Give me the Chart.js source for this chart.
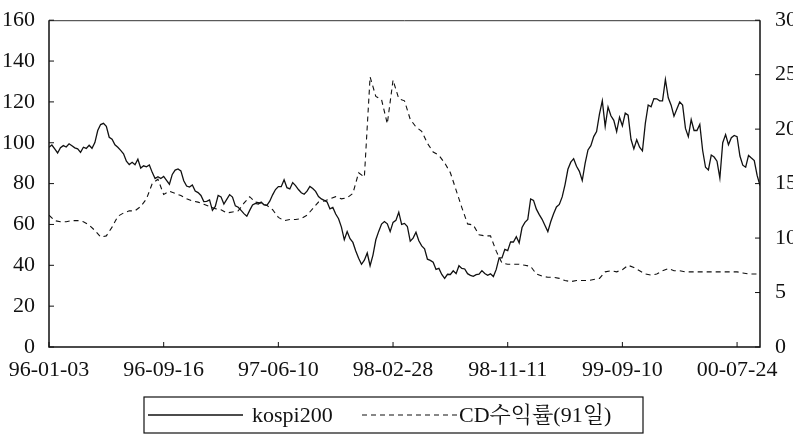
<!DOCTYPE html>
<html><head><meta charset="utf-8">
<script src="https://cdn.jsdelivr.net/npm/chart.js@4.4.1/dist/chart.umd.min.js"></script>
<style>html,body{margin:0;padding:0;background:#fff}</style>
</head><body>
<canvas id="c" width="793" height="436"></canvas>
<script>
// x-axis tick labels, one every 20 periods (1 period = 10 trading days)
const tickLabels = ['96-01-03','96-09-16','97-06-10','98-02-28','98-11-11','99-09-10','00-07-24'];
const tickEvery = 20;
const seriesNames = ['kospi200', 'CD수익률(91일)'];

// KOSPI200 index (left axis), sampled every half period (5 trading days)
const kospi200 = [
  97.8, 98.9, 97.0, 95.0, 97.6, 98.6, 97.9, 99.5, 98.5, 97.5,
  97.0, 95.3, 97.8, 97.2, 98.8, 97.3, 100.1, 106, 108.9, 109.5,
  108.0, 102.7, 101.7, 99, 97.8, 96.3, 94.6, 91, 89.3, 90.4,
  89.2, 91.9, 87.6, 88.7, 88.2, 89.1, 85.5, 82.5, 83.4, 82.5,
  83.5, 81.6, 79.7, 84.5, 86.6, 87.2, 86.2, 81.4, 78.8, 78.3,
  79.3, 76.4, 75.6, 74.2, 71.2, 71.3, 72.0, 66.9, 68.8, 74.2,
  73.5, 70.0, 72.3, 74.6, 73.4, 69.1, 68.4, 66.9, 65.3, 64.0,
  66.9, 69.5, 70.3, 70.0, 70.9, 69.6, 69.4, 71.4, 74.5, 77.1,
  78.5, 78.5, 81.9, 78, 77.4, 80.5, 79.0, 77.1, 75.5, 74.8,
  76.3, 78.6, 77.6, 76.2, 73.7, 72.5, 71.8, 71, 67.6, 68.3,
  65.1, 62.8, 58.7, 52.5, 56.5, 53, 51.2, 47, 43.5, 40.5,
  42.5, 46, 39.8, 45, 52.5, 56.6, 60.2, 61.4, 60.3, 56.5,
  61, 62, 66, 60, 60.5, 59, 51.8, 53.3, 56.2, 52,
  49.5, 48.1, 43, 42.4, 41.5, 38, 38.5, 35.5, 33.6, 35.6,
  35.5, 37.3, 35.9, 39.8, 38.5, 38.2, 35.9, 35.1, 34.6, 35.4,
  35.7, 37.4, 36, 35.1, 35.8, 34.5, 38, 43.6, 43.6, 47.8,
  47.2, 51.5, 51.4, 54, 51, 58.5, 61, 62.5, 72.5, 71.8,
  67.5, 64.8, 62.5, 59.5, 56.5, 61.3, 65.2, 68.6, 69.8, 73.5,
  79.5, 87, 90.5, 92.2, 88.5, 86, 81.5, 89.9, 96.5, 98.6,
  103, 105.5, 114, 120.5, 108, 117.5, 113.2, 111, 105.5, 112.5,
  108.3, 114.5, 113.5, 101.7, 97, 101.5, 97.8, 96, 109.5, 118.5,
  117.6, 121.6, 121.5, 120.5, 120.5, 131, 122, 118.4, 113, 116.5,
  120, 118.5, 107, 103, 111.3, 106, 106, 109, 96.2, 88,
  86.7, 94, 93, 91, 82.7, 100, 104, 99, 102.5, 103.6,
  103, 93.5, 89, 88, 93.8, 92.5, 91.3, 84, 79
];

// CD 91-day yield, % (right axis), sampled every period
const cdRate = [
  12.1, 11.6, 11.5, 11.5, 11.6, 11.6, 11.5, 11.2, 10.7, 10.1,
  10.2, 11.0, 12.0, 12.3, 12.5, 12.5, 12.9, 13.6, 15.0, 15.4,
  14.0, 14.3, 14.1, 13.9, 13.6, 13.4, 13.3, 13.1, 12.9, 12.7,
  12.6, 12.3, 12.4, 12.5, 13.2, 13.8, 13.3, 13.2, 13.0, 12.6,
  11.9, 11.6, 11.7, 11.7, 11.8, 12.1, 12.7, 13.3, 13.4, 13.6,
  13.8, 13.6, 13.7, 14.1, 16.0, 15.6, 24.8, 23.0, 22.7, 20.5,
  24.5, 22.8, 22.6, 20.9, 20.2, 19.8, 18.7, 17.9, 17.6, 16.9,
  16.0, 14.4, 12.8, 11.3, 11.2, 10.3, 10.2, 10.2, 8.8, 7.7,
  7.6, 7.6, 7.6, 7.5, 7.4, 6.7, 6.5, 6.4, 6.4, 6.3,
  6.1, 6.0, 6.1, 6.1, 6.1, 6.2, 6.3, 6.9, 7.0, 6.9,
  7.1, 7.5, 7.3, 7.0, 6.7, 6.6, 6.7, 7.0, 7.2, 7.0,
  7.0, 6.9, 6.9, 6.9, 6.9, 6.9, 6.9, 6.9, 6.9, 6.9,
  6.9, 6.8, 6.7, 6.7, 6.7
];

const kospiPoints = kospi200.map((v, j) => ({x: j / 2, y: v}));
const cdPoints = cdRate.map((v, i) => ({x: i, y: v}));
const lastPeriod = cdRate.length - 1;

const FONT = "'Liberation Serif', 'DejaVu Serif', serif";
const LEGEND_FONT = "'Liberation Serif', 'Noto Serif CJK KR', 'Noto Sans CJK KR', serif";
const INK = '#111';

const framePlugin = {
  id: 'frame',
  afterDraw(chart) {
    const {ctx, chartArea: a, scales} = chart;
    ctx.save();
    ctx.strokeStyle = '#333';
    ctx.lineWidth = 1;
    ctx.beginPath();
    ctx.moveTo(a.left, a.top + 0.5); ctx.lineTo(a.right, a.top + 0.5);
    ctx.stroke();
    ctx.strokeStyle = INK;
    ctx.lineWidth = 1.5;
    ctx.beginPath();
    ctx.moveTo(a.left, a.top); ctx.lineTo(a.left, a.bottom); ctx.lineTo(a.right, a.bottom); ctx.lineTo(a.right, a.top);
    ctx.stroke();
    ctx.lineWidth = 1;
    const L = 5;
    ctx.beginPath();
    scales.y.ticks.forEach(t => { const y = scales.y.getPixelForValue(t.value); ctx.moveTo(a.left, y); ctx.lineTo(a.left + L, y); });
    scales.y1.ticks.forEach(t => { const y = scales.y1.getPixelForValue(t.value); ctx.moveTo(a.right, y); ctx.lineTo(a.right - L, y); });
    scales.x.ticks.forEach(t => { const x = scales.x.getPixelForValue(t.value); ctx.moveTo(x, a.bottom); ctx.lineTo(x, a.bottom - L); });
    ctx.stroke();
    ctx.restore();
  }
};

const legendPlugin = {
  id: 'boxLegend',
  afterDraw(chart) {
    const {ctx} = chart;
    const ds = chart.data.datasets;
    const box = {x: 144, y: 397, w: 499, h: 36};
    ctx.save();
    ctx.strokeStyle = INK;
    ctx.lineWidth = 1.2;
    ctx.strokeRect(box.x, box.y, box.w, box.h);
    const cy = box.y + box.h / 2;
    ctx.font = '22px ' + LEGEND_FONT;
    ctx.fillStyle = INK;
    ctx.textBaseline = 'middle';
    const items = [{x: 148, len: 95, tx: 252}, {x: 362, len: 95, tx: 459}];
    items.forEach((it, k) => {
      ctx.lineWidth = ds[k].borderWidth;
      ctx.setLineDash(ds[k].borderDash || []);
      ctx.beginPath();
      ctx.moveTo(it.x, cy); ctx.lineTo(it.x + it.len, cy);
      ctx.stroke();
      ctx.setLineDash([]);
      ctx.fillText(ds[k].label, it.tx, cy + 1);
    });
    ctx.restore();
  }
};

new Chart(document.getElementById('c'), {
  type: 'line',
  data: {
    datasets: [
      {label: seriesNames[0], data: kospiPoints, yAxisID: 'y', borderColor: INK, borderWidth: 1.3, pointRadius: 0, tension: 0, fill: false},
      {label: seriesNames[1], data: cdPoints, yAxisID: 'y1', borderColor: INK, borderWidth: 1.1, borderDash: [5, 4], pointRadius: 0, tension: 0, fill: false}
    ]
  },
  options: {
    responsive: false,
    animation: false,
    devicePixelRatio: 1,
    layout: {padding: {top: 11, left: 0, right: 0, bottom: 0}},
    plugins: {legend: {display: false}, tooltip: {enabled: false}},
    scales: {
      x: {
        type: 'linear', min: 0, max: lastPeriod,
        grid: {display: false}, border: {display: false},
        afterBuildTicks: s => { s.ticks = tickLabels.map((_, k) => ({value: k * tickEvery})); },
        ticks: {
          maxRotation: 0, minRotation: 0, autoSkip: false, padding: 2,
          color: INK, font: {family: FONT, size: 22},
          callback: v => tickLabels[Math.round(v / tickEvery)]
        },
        afterFit: s => { s.height = 89; }
      },
      y: {
        position: 'left', min: 0, max: 160,
        grid: {display: false}, border: {display: false},
        ticks: {stepSize: 20, padding: 6, color: INK, font: {family: FONT, size: 22}},
        afterFit: s => { s.width = 49; }
      },
      y1: {
        position: 'right', min: 0, max: 30,
        grid: {display: false}, border: {display: false},
        ticks: {stepSize: 5, padding: 7, color: INK, font: {family: FONT, size: 22}},
        afterFit: s => { s.width = 33; }
      }
    }
  },
  plugins: [framePlugin, legendPlugin]
});
</script>
</body></html>
